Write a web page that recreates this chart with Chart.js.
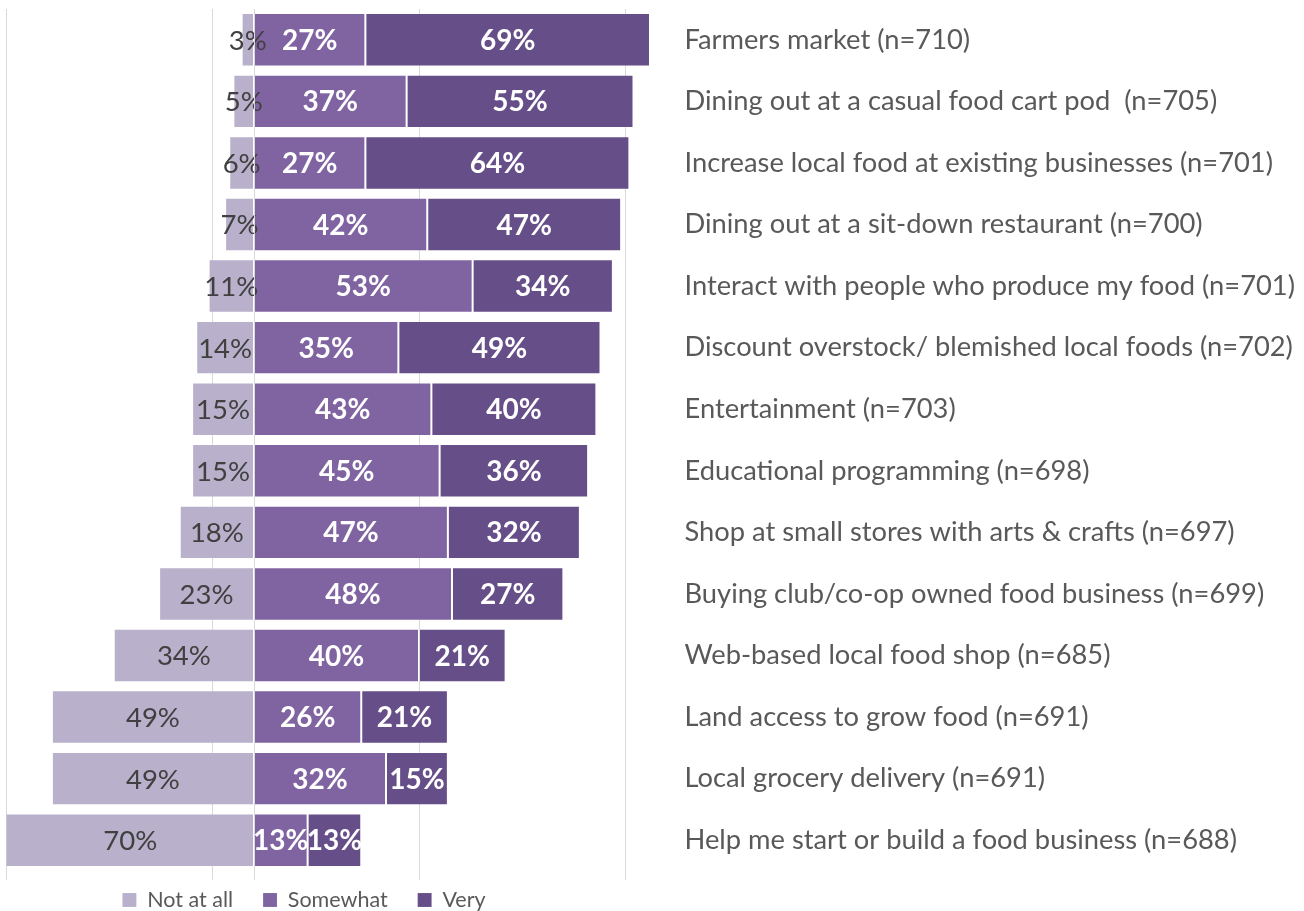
<!DOCTYPE html>
<html>
<head>
<meta charset="utf-8">
<script src="https://cdn.jsdelivr.net/npm/chart.js@4.4.0/dist/chart.umd.min.js"></script>
<style>
  html, body { margin: 0; padding: 0; background: #fff; }
  #wrap { position: relative; width: 1304px; height: 911px; }
</style>
</head>
<body>
<div id="wrap"><canvas id="chart"></canvas></div>
<script>
// Interest in local food activities, share of respondents
const CATEGORIES = [
    'Farmers market (n=710)',
    'Dining out at a casual food cart pod  (n=705)',
    'Increase local food at existing businesses (n=701)',
    'Dining out at a sit-down restaurant (n=700)',
    'Interact with people who produce my food (n=701)',
    'Discount overstock/ blemished local foods (n=702)',
    'Entertainment (n=703)',
    'Educational programming (n=698)',
    'Shop at small stores with arts & crafts (n=697)',
    'Buying club/co-op owned food business (n=699)',
    'Web-based local food shop (n=685)',
    'Land access to grow food (n=691)',
    'Local grocery delivery (n=691)',
    'Help me start or build a food business (n=688)'
];
const SERIES_NAMES = ['Not at all', 'Somewhat', 'Very'];
const NOT_AT_ALL = [3, 5, 6, 7, 11, 14, 15, 15, 18, 23, 34, 49, 49, 70];
const SOMEWHAT   = [27, 37, 27, 42, 53, 35, 43, 45, 47, 48, 40, 26, 32, 13];
const VERY       = [69, 55, 64, 47, 34, 49, 40, 36, 32, 27, 21, 21, 15, 13];
const GRID_TICKS = [-60, -10, 40, 90];
const X_MIN = -60;
const X_MAX = 100;

const FONT = 'Lato, "Open Sans", sans-serif';
const COLORS = ['#b9b0cb', '#8064a2', '#664e88'];

// value labels: dark for "Not at all", bold white for the others
const barLabels = {
    id: 'barLabels',
    afterDatasetsDraw(chart) {
        const { ctx, chartArea } = chart;
        chart.data.datasets.forEach((ds, di) => {
            const meta = chart.getDatasetMeta(di);
            meta.data.forEach((bar, i) => {
                const v = ds.data[i];
                const left = Math.max(Math.min(bar.x, bar.base), chartArea.left);
                const right = Math.min(Math.max(bar.x, bar.base), chartArea.right);
                ctx.save();
                if (di === 0) {
                    ctx.font = '27.5px ' + FONT;
                    ctx.fillStyle = '#404040';
                } else {
                    ctx.font = 'bold 28px ' + FONT;
                    ctx.fillStyle = '#ffffff';
                }
                ctx.textAlign = 'center';
                ctx.textBaseline = 'middle';
                ctx.fillText(Math.abs(v) + '%', (left + right) / 2, bar.y + 1);
                ctx.restore();
            });
        });
    }
};

// zero axis line on top of bars
const zeroLine = {
    id: 'zeroLine',
    afterDatasetsDraw(chart) {
        const { ctx, chartArea } = chart;
        const x = Math.round(chart.scales.x.getPixelForValue(0)) + 0.5;
        ctx.save();
        ctx.strokeStyle = '#d9d9d9';
        ctx.lineWidth = 1;
        ctx.beginPath();
        ctx.moveTo(x, chartArea.top);
        ctx.lineTo(x, chartArea.bottom + 9);
        ctx.stroke();
        ctx.restore();
    }
};

// put the legend under the left part of the chart, like the original
const legendPlace = {
    id: 'legendPlace',
    afterLayout(chart) {
        const lg = chart.legend;
        if (!lg) return;
        const pad = lg.options.labels.padding;
        const size = lg.options.labels.font.size;
        const lw = lg.lineWidths[0];
        const start = 304 - (lw - pad) / 2;
        lg.left = 0;
        lg.right = 2 * start - pad + lw;
        lg.width = lg.right;
        lg.top = 900 - size / 2 - pad;
        lg.bottom = 911;
        lg.height = lg.bottom - lg.top;
    }
};

new Chart(document.getElementById('chart'), {
    type: 'bar',
    data: {
        labels: CATEGORIES,
        datasets: [
            { label: SERIES_NAMES[0], data: NOT_AT_ALL.map(v => -v), backgroundColor: COLORS[0] },
            { label: SERIES_NAMES[1], data: SOMEWHAT, backgroundColor: COLORS[1] },
            { label: SERIES_NAMES[2], data: VERY, backgroundColor: COLORS[2] }
        ]
    },
    options: {
        indexAxis: 'y',
        responsive: true,
        maintainAspectRatio: false,
        animation: false,
        datasets: {
            bar: {
                categoryPercentage: 1, barPercentage: 0.868,
                borderWidth: 1, borderColor: 'rgba(255,255,255,0.12)', borderSkipped: false
            }
        },
        layout: { padding: { top: 9, left: 6.5, right: 0, bottom: 0 } },
        plugins: {
            tooltip: { enabled: false },
            legend: {
                position: 'bottom',
                maxHeight: 31,
                labels: {
                    boxWidth: 14, boxHeight: 14, padding: 30,
                    color: '#595959', font: { family: FONT, size: 21.5 }
                }
            }
        },
        scales: {
            x: {
                stacked: true,
                min: X_MIN, max: X_MAX,
                afterBuildTicks(s) { s.ticks = GRID_TICKS.map(v => ({ value: v })); },
                ticks: { display: false },
                border: { display: false },
                grid: { color: '#d9d9d9', lineWidth: 1, drawTicks: true, tickLength: 9 }
            },
            y: {
                stacked: true,
                position: 'right',
                grid: { display: false, drawTicks: false },
                border: { display: false },
                ticks: {
                    color: '#595959', padding: 18, crossAlign: 'near',
                    font: { family: FONT, size: 27.3 }
                },
                afterFit(s) {
                    s.width = 637.5;
                    s.paddingTop = 0;
                    s.paddingBottom = 0;
                }
            }
        }
    },
    plugins: [barLabels, zeroLine, legendPlace]
});
</script>
</body>
</html>
